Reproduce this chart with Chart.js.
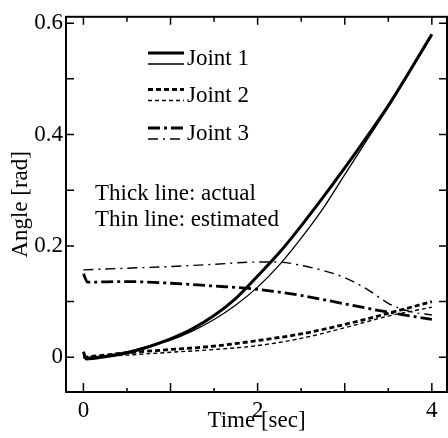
<!DOCTYPE html>
<html>
<head>
<meta charset="utf-8">
<script src="https://cdn.jsdelivr.net/npm/chart.js@4.4.1/dist/chart.umd.min.js"></script>
<style>
  body { margin: 0; background: #fff; }
  #wrap { width: 448px; height: 438px; }
</style>
</head>
<body>
<div id="wrap"><canvas id="angleChart"></canvas></div>
<script>
// time [sec] / angle [rad]
const time1 = [0, 0.03, 0.25, 0.5, 0.75, 1, 1.25, 1.5, 1.75, 2, 2.25, 2.5, 2.75, 3, 3.25, 3.5, 3.75, 4];
const joint1Actual = [0.01, -0.003, 0.001, 0.008, 0.019, 0.033, 0.051, 0.075, 0.106, 0.146, 0.188, 0.236, 0.287, 0.34, 0.395, 0.452, 0.515, 0.58];
const joint1Estimated = [0, 0, 0.003, 0.01, 0.02, 0.031, 0.047, 0.068, 0.094, 0.126, 0.166, 0.214, 0.267, 0.328, 0.389, 0.449, 0.513, 0.578];

const time2 = [0, 0.5, 1, 1.5, 2, 2.5, 3, 3.5, 4];
const joint2Actual = [0, 0.008, 0.014, 0.02, 0.03, 0.042, 0.059, 0.079, 0.1];
const joint2Estimated = [0, 0.004, 0.009, 0.014, 0.021, 0.034, 0.053, 0.074, 0.09];

const time3Actual = [0, 0.05, 0.5, 1, 1.5, 2, 2.5, 3, 3.5, 4];
const joint3Actual = [0.15, 0.135, 0.136, 0.133, 0.128, 0.122, 0.111, 0.096, 0.081, 0.068];
const time3Estimated = [0, 0.5, 1, 1.5, 2, 2.25, 2.5, 2.75, 3, 3.25, 3.5, 3.75, 4];
const joint3Estimated = [0.157, 0.16, 0.163, 0.167, 0.171, 0.171, 0.165, 0.156, 0.143, 0.123, 0.097, 0.082, 0.076];

const jointNames = ['Joint 1', 'Joint 2', 'Joint 3'];
const noteLines = ['Thick line: actual', 'Thin line: estimated'];

const xTicks = [0, 2, 4];
const yTicks = [0, 0.2, 0.4, 0.6];
const xMinorTicks = [0, 0.5, 1, 1.5, 2, 2.5, 3, 3.5, 4];
const yMinorTicks = [0, 0.1, 0.2, 0.3, 0.4, 0.5, 0.6];

const FONT = '"Liberation Serif", "Times New Roman", serif';

function points(t, v) {
    return t.map((x, i) => ({ x: x, y: v[i] }));
}

function series(label, t, v, width, dash) {
    return {
        label: label,
        data: points(t, v),
        borderColor: '#000',
        borderWidth: width,
        borderDash: dash,
        pointRadius: 0,
        fill: false,
        cubicInterpolationMode: 'monotone'
    };
}

// frame, inward ticks, and the legend / note text inside the plot
const framePlugin = {
    id: 'frame',
    afterDatasetsDraw(chart) {
        const { ctx, chartArea: a, scales: { x, y } } = chart;
        ctx.save();
        ctx.strokeStyle = '#000';
        ctx.lineWidth = 2;
        ctx.setLineDash([]);
        ctx.strokeRect(a.left, a.top, a.right - a.left, a.bottom - a.top);

        ctx.lineWidth = 1.5;
        ctx.beginPath();
        xMinorTicks.forEach(t => {
            const px = x.getPixelForValue(t);
            const major = Number.isInteger(t);
            ctx.moveTo(px, a.bottom);
            ctx.lineTo(px, a.bottom - (major ? 9 : 4));
            ctx.moveTo(px, a.top);
            ctx.lineTo(px, a.top + (major ? 8 : 5));
        });
        yMinorTicks.forEach(v => {
            const py = y.getPixelForValue(v);
            ctx.moveTo(a.left, py);
            ctx.lineTo(a.left + 8, py);
            ctx.moveTo(a.right, py);
            ctx.lineTo(a.right - 8, py);
        });
        ctx.stroke();

        // legend: thick sample above, thin sample below
        const rows = [59, 95.5, 134];
        const ds = chart.data.datasets;
        ctx.font = '23px ' + FONT;
        ctx.fillStyle = '#000';
        ctx.textBaseline = 'middle';
        jointNames.forEach((name, i) => {
            [[ds[2 * i], -6], [ds[2 * i + 1], 5]].forEach(([d, dy]) => {
                ctx.beginPath();
                ctx.lineWidth = d.borderWidth;
                ctx.setLineDash(d.borderDash || []);
                ctx.moveTo(148, rows[i] + dy);
                ctx.lineTo(184, rows[i] + dy);
                ctx.stroke();
            });
            ctx.setLineDash([]);
            ctx.fillText(name, 187, rows[i]);
        });
        ctx.fillText(noteLines[0], 95, 194);
        ctx.fillText(noteLines[1], 95, 220);
        ctx.restore();
    }
};

function angleChart() {

    let angleChart = document.getElementById('angleChart');

    new Chart(angleChart, {
        type: 'line',
        data: {
            datasets: [
                series('Joint 1 actual', time1, joint1Actual, 3, []),
                series('Joint 1 estimated', time1, joint1Estimated, 1.3, []),
                series('Joint 2 actual', time2, joint2Actual, 2.8, [5, 3]),
                series('Joint 2 estimated', time2, joint2Estimated, 1.4, [4, 3]),
                series('Joint 3 actual', time3Actual, joint3Actual, 2.8, [12, 4, 3, 4]),
                series('Joint 3 estimated', time3Estimated, joint3Estimated, 1.4, [10, 5, 2, 5])
            ]
        },
        options: {
            responsive: true,
            maintainAspectRatio: false,
            animation: false,
            layout: { padding: { top: 10, right: 1, left: 0, bottom: 0 } },
            plugins: {
                legend: { display: false },
                tooltip: { enabled: false }
            },
            scales: {
                x: {
                    type: 'linear',
                    min: -0.2,
                    max: 4.174,
                    afterBuildTicks: s => { s.ticks = xTicks.map(v => ({ value: v })); },
                    afterFit: s => { s.height = 46; },
                    grid: { display: false, drawTicks: false },
                    border: { display: false },
                    ticks: {
                        padding: 5,
                        color: '#000',
                        maxRotation: 0,
                        font: { family: FONT, size: 23, lineHeight: 1.2 },
                        callback: v => String(v)
                    },
                    title: {
                        display: true,
                        text: 'Time [sec]',
                        color: '#000',
                        padding: { top: 0, bottom: 3 },
                        font: { family: FONT, size: 23, lineHeight: 1.2 }
                    }
                },
                y: {
                    type: 'linear',
                    min: -0.0623,
                    max: 0.6114,
                    afterBuildTicks: s => { s.ticks = yTicks.map(v => ({ value: v })); },
                    afterFit: s => { s.width = 66; },
                    grid: { display: false, drawTicks: false },
                    border: { display: false },
                    ticks: {
                        padding: 3,
                        color: '#000',
                        font: { family: FONT, size: 23, lineHeight: 1.2 },
                        callback: v => (v === 0 ? '0' : v.toFixed(1))
                    },
                    title: {
                        display: true,
                        text: 'Angle [rad]',
                        color: '#000',
                        padding: { top: 7, bottom: 0 },
                        font: { family: FONT, size: 23, lineHeight: 1.2 }
                    }
                }
            }
        },
        plugins: [framePlugin]
    });
}

angleChart();
</script>
</body>
</html>
